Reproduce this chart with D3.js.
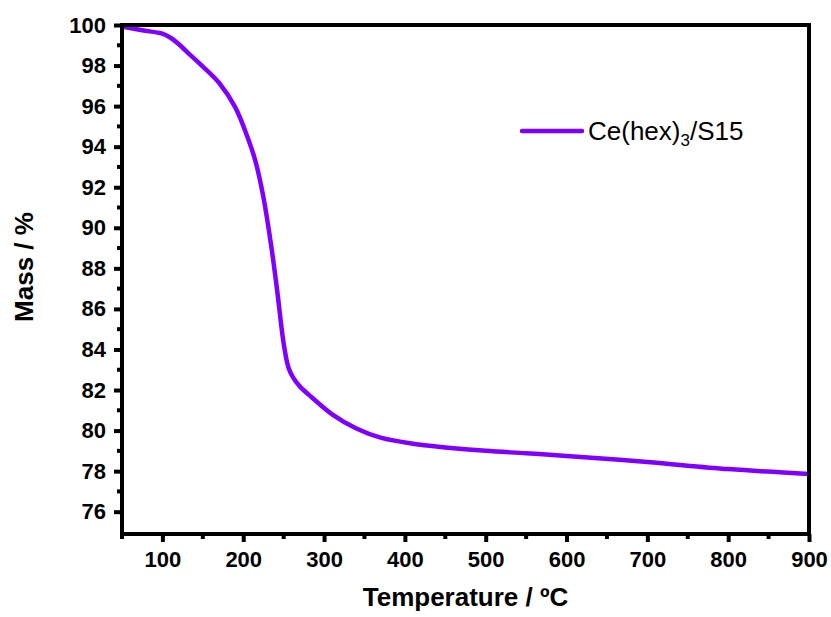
<!DOCTYPE html>
<html lang="en">
  <head>
    <meta charset="UTF-8" />
    <title>TGA</title>
    <script src="https://d3js.org/d3.v7.min.js"></script>
    <style>
      body { margin: 0; background: #fff; }
      text { font-family: "Liberation Sans", Arial, sans-serif; }
    </style>
  </head>
  <body>
    <script>
      // temperature (ºC) and mass (%)
      var temps = [50, 75, 100, 110, 120, 135, 150, 170, 190, 205, 215, 225, 235, 242, 250, 256, 262, 270, 285, 310, 340, 370, 410, 450, 500, 550, 600, 700, 800, 900];
      var mass = [99.92, 99.74, 99.57, 99.37, 99.06, 98.5, 97.95, 97.15, 95.95, 94.5, 93.3, 91.5, 89.0, 86.9, 84.3, 83.1, 82.6, 82.18, 81.63, 80.8, 80.1, 79.65, 79.35, 79.17, 79.0, 78.88, 78.75, 78.45, 78.1, 77.86];
      var xMajor = [100, 200, 300, 400, 500, 600, 700, 800, 900];
      var xMinor = [50, 150, 250, 350, 450, 550, 650, 750, 850];
      var yMajor = [76, 78, 80, 82, 84, 86, 88, 90, 92, 94, 96, 98, 100];
      var yMinor = [77, 79, 81, 83, 85, 87, 89, 91, 93, 95, 97, 99];
      var seriesName = "Ce(hex)";

      var mLeft = 122, mRight = 809, mTop = 25, mBottom = 534;

      var x = d3.scaleLinear().domain([50, 900]).range([mLeft, mRight]);
      var y = d3.scaleLinear().domain([74.9, 100]).range([mBottom, mTop]);

      var svg = d3.select("body").append("svg")
        .attr("width", 831)
        .attr("height", 617);

      var data = temps.map(function (t, i) { return [t, mass[i]]; });

      svg.append("path")
        .datum(data)
        .attr("fill", "none")
        .attr("stroke", "#7F00FF")
        .attr("stroke-width", 4.5)
        .attr("stroke-linejoin", "round")
        .attr("d", d3.line()
          .x(function (d) { return x(d[0]); })
          .y(function (d) { return y(d[1]); })
          .curve(d3.curveCatmullRom.alpha(0.5)));

      // bottom axis
      var xAxis = svg.append("g")
        .attr("transform", "translate(0," + mBottom + ")")
        .call(d3.axisBottom(x).tickValues(xMajor).tickSize(8).tickSizeOuter(0).tickPadding(9));
      xAxis.select(".domain").remove();
      xAxis.selectAll(".tick line").attr("stroke-width", 4);
      xAxis.selectAll(".tick text")
        .style("font-size", "22px").style("font-weight", "bold").attr("fill", "#000");
      xAxis.selectAll(".minor").data(xMinor).enter().append("line")
        .attr("class", "minor")
        .attr("x1", function (d) { return x(d); })
        .attr("x2", function (d) { return x(d); })
        .attr("y1", 0).attr("y2", 5)
        .attr("stroke", "#000").attr("stroke-width", 4);

      // left axis
      var yAxis = svg.append("g")
        .attr("transform", "translate(" + mLeft + ",0)")
        .call(d3.axisLeft(y).tickValues(yMajor).tickSize(8).tickSizeOuter(0).tickPadding(8));
      yAxis.select(".domain").remove();
      yAxis.selectAll(".tick line").attr("stroke-width", 4);
      yAxis.selectAll(".tick text")
        .style("font-size", "22px").style("font-weight", "bold").attr("fill", "#000");
      yAxis.selectAll(".minor").data(yMinor).enter().append("line")
        .attr("class", "minor")
        .attr("y1", function (d) { return y(d); })
        .attr("y2", function (d) { return y(d); })
        .attr("x1", 0).attr("x2", -5)
        .attr("stroke", "#000").attr("stroke-width", 4);

      // frame
      svg.append("rect")
        .attr("x", mLeft).attr("y", mTop)
        .attr("width", mRight - mLeft).attr("height", mBottom - mTop)
        .attr("fill", "none").attr("stroke", "#000").attr("stroke-width", 4);

      // axis titles
      svg.append("text")
        .attr("x", (mLeft + mRight) / 2).attr("y", 606)
        .attr("text-anchor", "middle")
        .style("font-size", "26px").style("font-weight", "bold")
        .text("Temperature / ºC");

      svg.append("text")
        .attr("transform", "translate(33,267) rotate(-90)")
        .attr("text-anchor", "middle")
        .style("font-size", "26px").style("font-weight", "bold")
        .text("Mass / %");

      // legend
      svg.append("line")
        .attr("x1", 522).attr("x2", 582).attr("y1", 131).attr("y2", 131)
        .attr("stroke", "#7F00FF").attr("stroke-width", 4.5).attr("stroke-linecap", "round");
      var lt = svg.append("text")
        .attr("x", 588).attr("y", 140)
        .style("font-size", "26px");
      lt.append("tspan").text(seriesName);
      lt.append("tspan").attr("dy", 6).style("font-size", "17px").text("3");
      lt.append("tspan").attr("dy", -6).text("/S15");
    </script>
  </body>
</html>
